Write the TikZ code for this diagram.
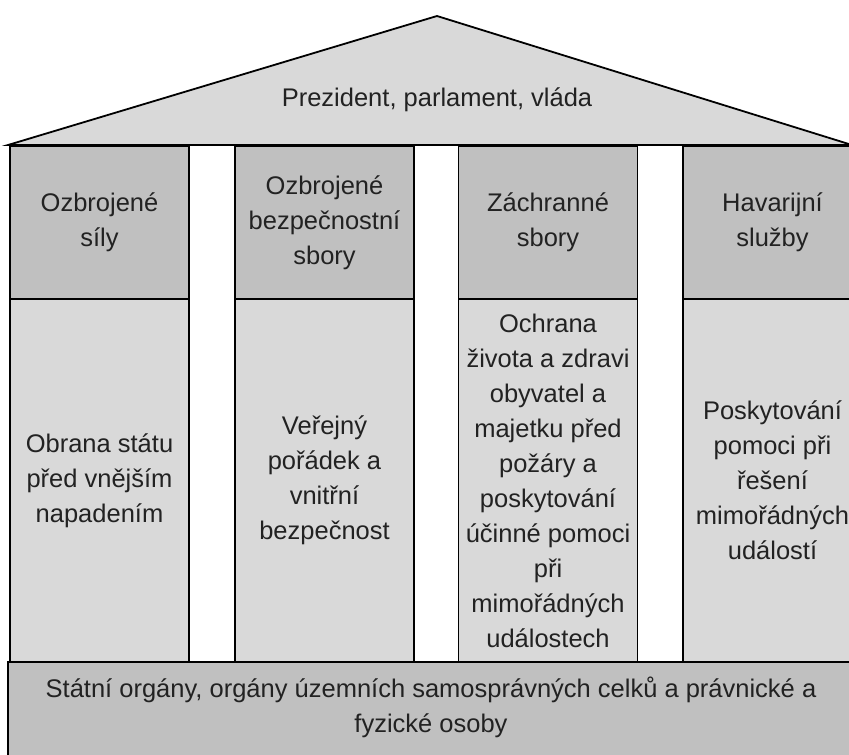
\documentclass[tikz,border=0pt]{standalone}
\usepackage{fontspec}
\setmainfont{Liberation Sans}
\definecolor{tmava}{RGB}{192,192,192}
\definecolor{svetla}{RGB}{217,217,217}
\definecolor{pismo}{RGB}{34,34,34}
\begin{document}
\begin{tikzpicture}[x=1pt,y=-1pt,line width=1.8pt,
    every node/.style={text=pismo,font=\fontsize{25.5}{35}\selectfont,align=center}]

        \useasboundingbox (0,0) rectangle (849,755);
        \clip (0,0) rectangle (849,755);

        % zaklad
        \draw[fill=tmava] (8,662) rectangle (880,790);
        \node (zaklad) at (431,707) {Státní orgány, orgány územních samosprávných celků a právnické a\\fyzické osoby};

        \begin{scope}[every node/.style={draw,fill=tmava,inner sep=0pt,minimum width=179,minimum height=153,
            text=pismo,font=\fontsize{25.5}{35}\selectfont,align=center}]
          \node (h1) at (99.5,222.5)  {Ozbrojené\\síly};
          \node (h2) at (324.5,222.5) {Ozbrojené\\bezpečnostní\\sbory};
          \node (h3) at (548,222.5)   {Záchranné\\sbory};
          \node (h4) at (772.5,222.5) {Havarijní\\služby};
        \end{scope}

        \begin{scope}[every node/.style={draw,fill=svetla,inner sep=0pt,minimum width=179,minimum height=363,
            text=pismo,font=\fontsize{25.5}{35}\selectfont,align=center}]
          \node (b1) at (99.5,480.5)  {Obrana státu\\před vnějším\\napadením};
          \node (b2) at (324.5,480.5) {Veřejný\\pořádek a\\vnitřní\\bezpečnost};
          \node (b3) at (548,480.5)   {Ochrana\\života a zdravi\\obyvatel a\\majetku před\\požáry a\\poskytování\\účinné pomoci\\při\\mimořádných\\událostech};
          \node (b4) at (772.5,480.5) {Poskytování\\pomoci při\\řešení\\mimořádných\\událostí};
        \end{scope}

        % strecha
        \draw[fill=svetla] (8,145) -- (437,16) -- (852,145) -- cycle;
        \node (vlada) at (437,100) {Prezident, parlament, vláda};

      \end{tikzpicture}
\end{document}
